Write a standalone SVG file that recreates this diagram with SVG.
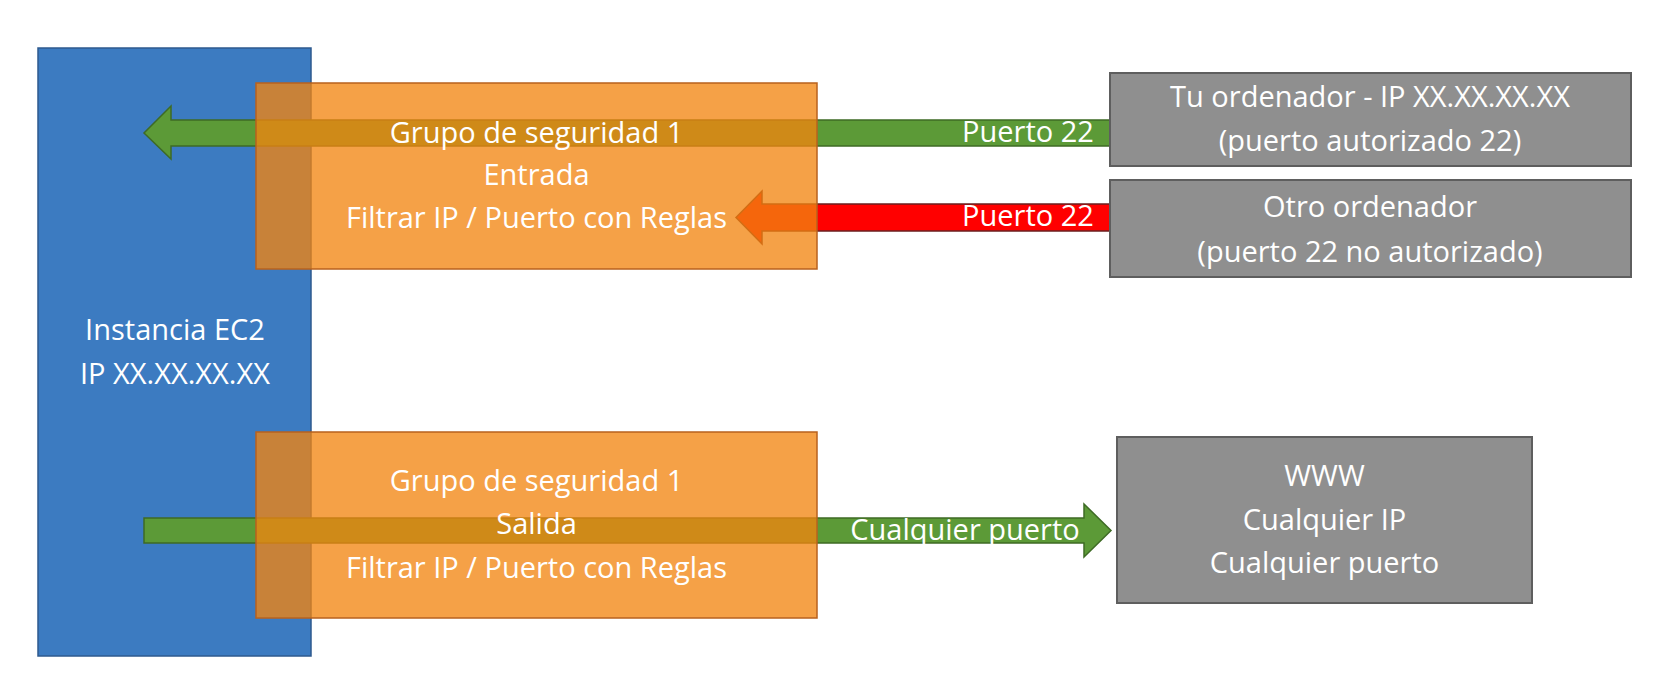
<svg xmlns="http://www.w3.org/2000/svg" width="1659" height="694" viewBox="0 0 1659 694">
<style>
.t{font-family:"Open Sans","Noto Sans","Liberation Sans",sans-serif;font-size:29px;fill:#ffffff;text-anchor:middle}
.sg{fill:#F2850F;fill-opacity:0.77;stroke:#B8621E;stroke-width:1.5}
.gray{fill:#8F8F8F;stroke:#5E5E5E;stroke-width:2}
.ga{fill:#5C9A37;stroke:#3E6B25;stroke-width:1.5}
.ra{fill:#FF0000;stroke:#6B1F1F;stroke-width:1.5}
</style>
<rect x="0" y="0" width="1659" height="694" fill="#ffffff"/>
<g id="ec2">
<rect x="38" y="48" width="273" height="608" fill="#3C7BC1" stroke="#2E5A8E" stroke-width="1.5"/>
<text class="t" x="175" y="340">Instancia EC2</text>
<text class="t" x="175" y="384">IP XX.XX.XX.XX</text>
</g>
<g id="connectors">
<path class="ga" d="M1110,120 L171,120 L171,106 L144,133 L171,159 L171,146 L1110,146 Z"/>
<text class="t" x="1028" y="142">Puerto 22</text>
<path class="ra" d="M1110,204 L762,204 L762,191 L736,217.5 L762,244 L762,231 L1110,231 Z"/>
<text class="t" x="1028" y="226">Puerto 22</text>
<path class="ga" d="M144,518 L1084,518 L1084,504 L1111,530.5 L1084,557 L1084,543 L144,543 Z"/>
<text class="t" x="965" y="540">Cualquier puerto</text>
</g>
<g id="sg-entrada">
<rect class="sg" x="256" y="83" width="561" height="186"/>
<text class="t" x="536.5" y="143">Grupo de seguridad 1</text>
<text class="t" x="536.5" y="185">Entrada</text>
<text class="t" x="536.5" y="228">Filtrar IP / Puerto con Reglas</text>
</g>
<g id="sg-salida">
<rect class="sg" x="256" y="432" width="561" height="186"/>
<text class="t" x="536.5" y="491">Grupo de seguridad 1</text>
<text class="t" x="536.5" y="534">Salida</text>
<text class="t" x="536.5" y="578">Filtrar IP / Puerto con Reglas</text>
</g>
<g id="tu-ordenador">
<rect class="gray" x="1110" y="73" width="521" height="93"/>
<text class="t" x="1370" y="107">Tu ordenador - IP XX.XX.XX.XX</text>
<text class="t" x="1370" y="151">(puerto autorizado 22)</text>
</g>
<g id="otro-ordenador">
<rect class="gray" x="1110" y="180" width="521" height="97"/>
<text class="t" x="1370" y="217">Otro ordenador</text>
<text class="t" x="1370" y="262">(puerto 22 no autorizado)</text>
</g>
<g id="www">
<rect class="gray" x="1117" y="437" width="415" height="166"/>
<text class="t" x="1324.5" y="486">WWW</text>
<text class="t" x="1324.5" y="530">Cualquier IP</text>
<text class="t" x="1324.5" y="573">Cualquier puerto</text>
</g>
</svg>
